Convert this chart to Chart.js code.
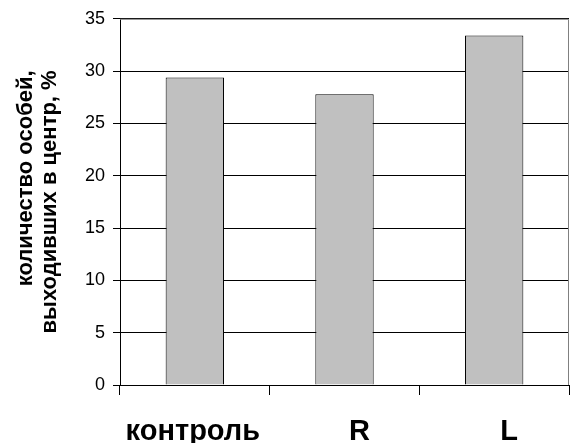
<!DOCTYPE html>
<html>
<head>
<meta charset="utf-8">
<script src="https://cdn.jsdelivr.net/npm/chart.js@4/dist/chart.umd.min.js"></script>
<style>
  html, body { margin: 0; padding: 0; background: #ffffff; }
  #wrap { width: 570px; height: 443px; position: relative; }
</style>
</head>
<body>
<div id="wrap"><canvas id="chart"></canvas></div>
<script>
// Доля особей, выходивших в центр, по группам
const categories = ['контроль', 'R', 'L'];
const percentValues = [29.4, 27.8, 33.4];
const yTicks = [0, 5, 10, 15, 20, 25, 30, 35];
const yTitleLines = ['количество особей,', 'выходивших в центр, %'];

const FONT = '"Liberation Sans", Arial, sans-serif';

// Серая рамка области построения сверху и справа
const frameBorder = {
  id: 'frameBorder',
  afterDatasetsDraw(chart) {
    const { ctx, chartArea: a } = chart;
    ctx.save();
    ctx.strokeStyle = '#808080';
    ctx.lineWidth = 1;
    ctx.beginPath();
    ctx.moveTo(a.left, a.top + 0.5);
    ctx.lineTo(a.right - 0.5, a.top + 0.5);
    ctx.lineTo(a.right - 0.5, a.bottom);
    ctx.stroke();
    ctx.restore();
  }
};

// Подписи категорий под осью X (со своим сдвигом для каждой)
const categoryLabels = {
  id: 'categoryLabels',
  afterDraw(chart, args, opts) {
    const { ctx } = chart;
    const xs = chart.scales.x;
    ctx.save();
    ctx.font = opts.font;
    ctx.fillStyle = '#000000';
    ctx.textAlign = 'center';
    ctx.textBaseline = 'alphabetic';
    chart.data.labels.forEach((label, i) => {
      ctx.fillText(label, xs.getPixelForTick(i) + opts.shift[i], xs.top + opts.baseline);
    });
    ctx.restore();
  }
};

// Заголовок оси Y: две строки, выровненные по концу
const axisTitle = {
  id: 'axisTitle',
  afterDraw(chart, args, opts) {
    const { ctx, chartArea: a } = chart;
    const ys = chart.scales.y;
    ctx.save();
    ctx.font = opts.font;
    ctx.fillStyle = '#000000';
    const longest = Math.max(...opts.lines.map(t => ctx.measureText(t).width));
    const endY = (a.top + a.bottom) / 2 - longest / 2;
    opts.lines.forEach((text, i) => {
      ctx.save();
      ctx.translate(ys.left + opts.firstLine + i * opts.lineGap, endY);
      ctx.rotate(-Math.PI / 2);
      ctx.textAlign = 'right';
      ctx.textBaseline = 'middle';
      ctx.fillText(text, 0, 0);
      ctx.restore();
    });
    ctx.restore();
  }
};

new Chart(document.getElementById('chart'), {
  type: 'bar',
  data: {
    labels: categories,
    datasets: [{
      data: percentValues,
      backgroundColor: '#c0c0c0',
      borderColor: '#000000',
      borderWidth: 1,
      categoryPercentage: 1,
      barPercentage: 0.39
    }]
  },
  options: {
    responsive: true,
    maintainAspectRatio: false,
    animation: false,
    devicePixelRatio: 1,
    layout: { padding: { top: 8, right: 1, left: 0, bottom: 0 } },
    plugins: {
      legend: { display: false },
      tooltip: { enabled: false },
      categoryLabels: {
        font: 'bold 29px ' + FONT,
        baseline: 55,
        shift: [-2, 15, 15]
      },
      axisTitle: {
        lines: yTitleLines,
        font: 'bold 22px ' + FONT,
        firstLine: 26,
        lineGap: 24
      }
    },
    scales: {
      x: {
        grid: {
          offset: true,
          drawOnChartArea: false,
          drawTicks: true,
          tickLength: 10,
          color: '#000000'
        },
        border: { color: '#000000', width: 1 },
        ticks: { display: false },
        afterFit(scale) { scale.height = 58; }
      },
      y: {
        min: 0,
        max: 35,
        afterBuildTicks(scale) { scale.ticks = yTicks.map(v => ({ value: v })); },
        grid: {
          color: '#000000',
          lineWidth: 1,
          tickLength: 7
        },
        border: { color: '#000000', width: 1 },
        ticks: {
          color: '#000000',
          padding: 8,
          font: { family: FONT, size: 18 }
        },
        afterFit(scale) { scale.width = 120; }
      }
    }
  },
  plugins: [frameBorder, categoryLabels, axisTitle]
});
</script>
</body>
</html>
